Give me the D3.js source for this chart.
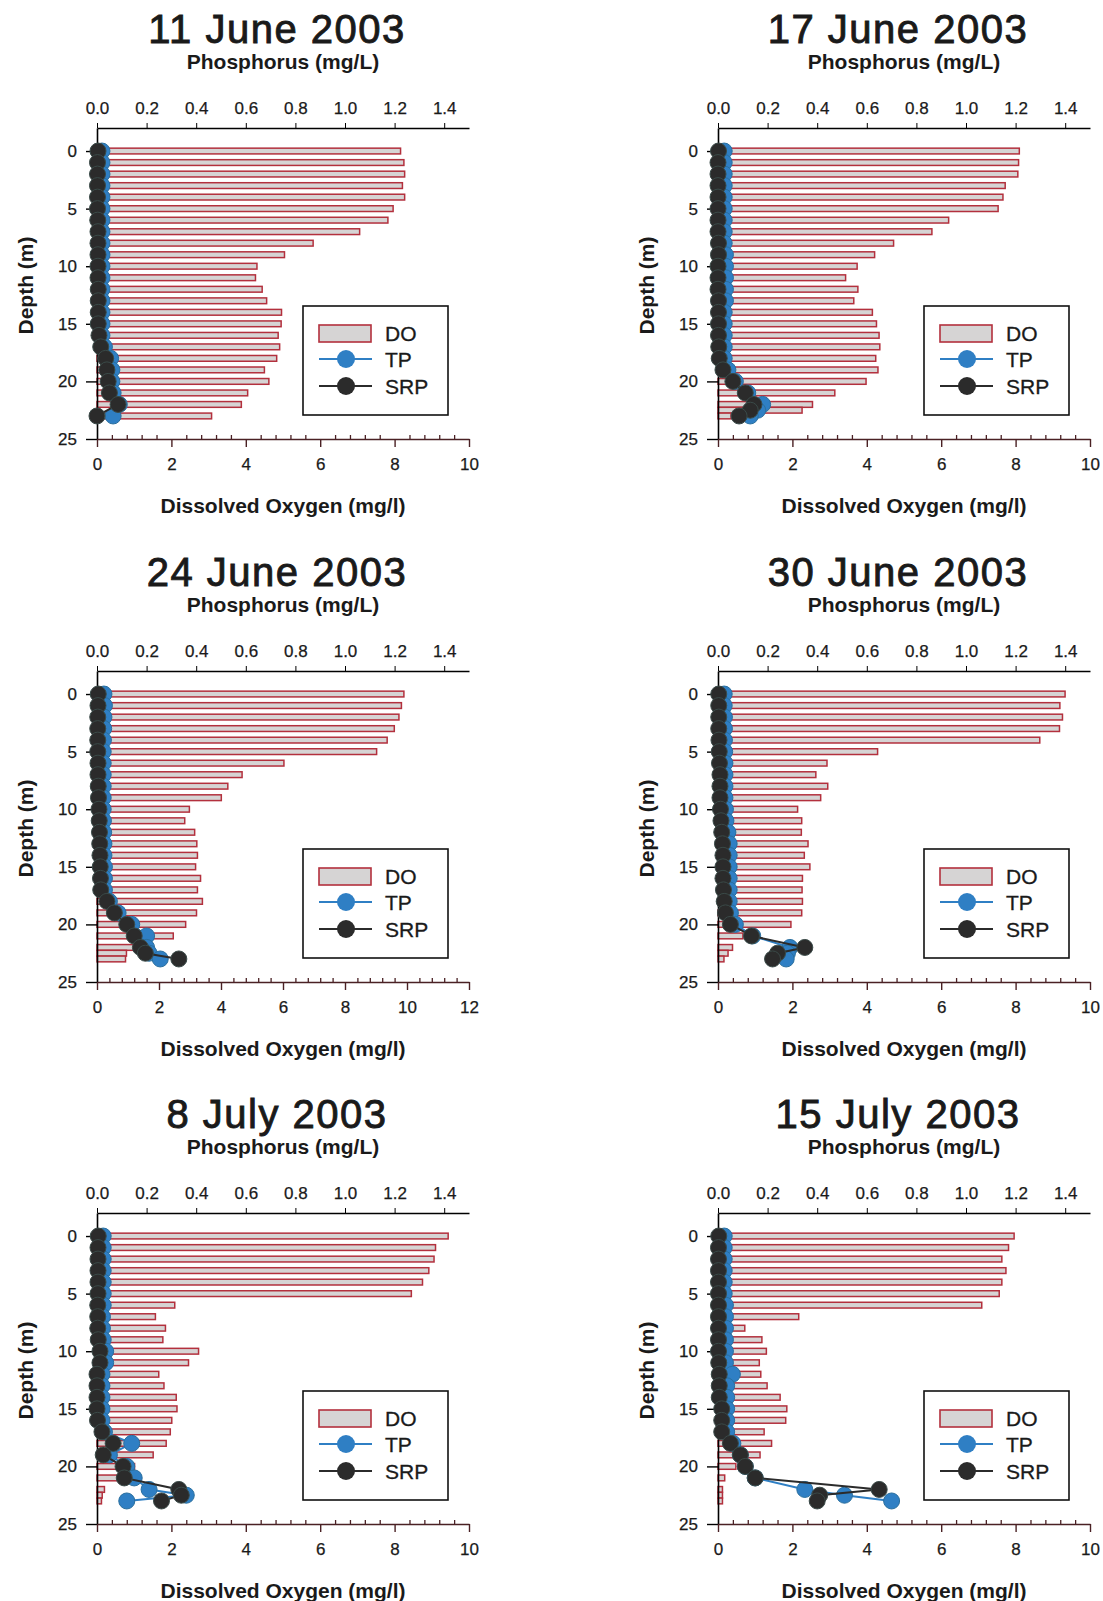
<!DOCTYPE html>
<html>
<head>
<meta charset="utf-8">
<script src="https://cdn.jsdelivr.net/npm/d3@7"></script>
<style>
    body { margin: 0; background: #fff; }
    text { font-family: "Liberation Sans", Arial, sans-serif; fill: #1a1a1a; }
</style>
</head>
<body>
<div class="canvas"></div>
<script>
// depths of the readings (m)
const depthsA = [0,1,2,3,4,5,6,7,8,9,10,11,12,13,14,15,16,17,18,19,20,21,22,23]
const depthsB = [0,1,2,3,4,5,6,7,8,9,10,11,12,13,14,15,16,17,18,19,20,21,22,22.5,23]

const titles = ["11 June 2003", "17 June 2003", "24 June 2003", "30 June 2003", "8 July 2003", "15 July 2003"]
const phosTicks = [0, 0.2, 0.4, 0.6, 0.8, 1.0, 1.2, 1.4]
const depthTicks = [0, 5, 10, 15, 20, 25]
const doTicks10 = [0, 2, 4, 6, 8, 10]
const doTicks12 = [0, 2, 4, 6, 8, 10, 12]

// dissolved oxygen (mg/l)
const do11Jun = [8.16,8.25,8.27,8.21,8.27,7.96,7.82,7.06,5.81,5.04,4.30,4.26,4.44,4.56,4.96,4.95,4.87,4.91,4.83,4.50,4.62,4.05,3.88,3.08]
const do17Jun = [8.10,8.08,8.06,7.72,7.66,7.53,6.20,5.75,4.72,4.21,3.74,3.43,3.76,3.65,4.15,4.26,4.33,4.35,4.24,4.30,3.98,3.14,2.54,2.26,0.35]
const do24Jun = [9.90,9.82,9.74,9.59,9.36,9.02,6.03,4.68,4.22,4.01,2.98,2.83,3.15,3.22,3.24,3.18,3.34,3.24,3.40,3.21,2.86,2.46,1.24,0.95,0.92]
const do30Jun = [9.33,9.19,9.26,9.18,8.65,4.29,2.93,2.63,2.95,2.76,2.14,2.25,2.24,2.42,2.32,2.47,2.27,2.26,2.27,2.25,1.96,0.67,0.39,0.27,0.16]
const do8Jul = [9.44,9.10,9.06,8.92,8.75,8.45,2.09,1.57,1.84,1.77,2.73,2.46,1.66,1.80,2.13,2.15,2.01,1.97,1.86,1.51,1.01,0.54,0.20,0.14,0.12]
const do15Jul = [7.96,7.81,7.63,7.74,7.63,7.56,7.09,2.17,0.72,1.18,1.30,1.11,1.15,1.32,1.67,1.85,1.82,1.24,1.44,1.13,0.48,0.18,0.12,0.12,0.12]

// total phosphorus (mg/L)
const tp11Jun = [0.02,0.02,0.02,0.02,0.02,0.02,0.02,0.02,0.02,0.02,0.02,0.02,0.02,0.02,0.02,0.02,0.02,0.03,0.055,0.06,0.06,0.065,0.09,0.065]
const tp17Jun = [0.025,0.025,0.025,0.025,0.025,0.025,0.025,0.025,0.025,0.03,0.03,0.03,0.03,0.03,0.025,0.025,0.025,0.025,0.025,0.04,0.07,0.12,0.18,0.16,0.13]
const tp24Jun = [0.028,0.03,0.028,0.027,0.026,0.025,0.025,0.025,0.025,0.025,0.025,0.026,0.027,0.028,0.028,0.03,0.03,0.03,0.05,0.085,0.14,0.2,0.2,0.21,0.255]
const tp30Jun = [0.025,0.025,0.026,0.026,0.026,0.027,0.028,0.028,0.028,0.028,0.03,0.032,0.04,0.045,0.045,0.045,0.045,0.045,0.045,0.05,0.07,0.14,0.29,0.28,0.275]
const tp8Jul = [0.025,0.025,0.025,0.025,0.025,0.025,0.025,0.022,0.022,0.025,0.035,0.035,0.02,0.02,0.02,0.02,0.02,0.03,0.14,0.05,0.12,0.15,0.21,0.36,0.12]
const tp15Jul = [0.025,0.025,0.025,0.025,0.025,0.025,0.03,0.03,0.03,0.03,0.03,0.03,0.058,0.035,0.035,0.035,0.035,0.035,0.06,0.09,0.11,0.15,0.35,0.51,0.70]

// soluble reactive phosphorus (mg/L)
const srp11Jun = [0.004,0.002,0.002,0.002,0.002,0.002,0.003,0.004,0.004,0.004,0.004,0.004,0.005,0.005,0.005,0.005,0.008,0.015,0.035,0.04,0.045,0.05,0.085,0.0]
const srp17Jun = [0.002,0,0,0,0,0,0,0,0.002,0.002,0,0,0,0.002,0.002,0.002,0.002,0.003,0.005,0.02,0.06,0.11,0.145,0.13,0.085]
const srp24Jun = [0.005,0.004,0.003,0.003,0.003,0.003,0.004,0.004,0.005,0.006,0.008,0.009,0.01,0.011,0.012,0.013,0.014,0.015,0.04,0.07,0.12,0.15,0.175,0.195,0.33]
const srp30Jun = [0.003,0.003,0.003,0.003,0.004,0.005,0.006,0.008,0.008,0.008,0.01,0.012,0.015,0.018,0.02,0.02,0.02,0.022,0.025,0.03,0.05,0.135,0.35,0.24,0.22]
const srp8Jul = [0.005,0.004,0.004,0.004,0.004,0.004,0.003,0.003,0.003,0.005,0.012,0.012,0,0,0,0,0.002,0.02,0.065,0.025,0.105,0.11,0.33,0.34,0.26]
const srp15Jul = [0.003,0.002,0.002,0.002,0.002,0.002,0.002,0.002,0.002,0.002,0.002,0.003,0.005,0.005,0.005,0.015,0.015,0.015,0.05,0.09,0.11,0.15,0.65,0.41,0.40]

const panels = [
    { title: titles[0], depths: depthsA, dox: do11Jun, tp: tp11Jun, srp: srp11Jun, doTicks: doTicks10 },
    { title: titles[1], depths: depthsB, dox: do17Jun, tp: tp17Jun, srp: srp17Jun, doTicks: doTicks10 },
    { title: titles[2], depths: depthsB, dox: do24Jun, tp: tp24Jun, srp: srp24Jun, doTicks: doTicks12 },
    { title: titles[3], depths: depthsB, dox: do30Jun, tp: tp30Jun, srp: srp30Jun, doTicks: doTicks10 },
    { title: titles[4], depths: depthsB, dox: do8Jul, tp: tp8Jul, srp: srp8Jul, doTicks: doTicks10 },
    { title: titles[5], depths: depthsB, dox: do15Jul, tp: tp15Jul, srp: srp15Jul, doTicks: doTicks10 }
]

const colors = { barFill: "#d6d4d4", barStroke: "#b3303d", tp: "#2f7fc4", srp: "#2b2b2b", doAxis: "#4a2124" }

const svg = d3.select(".canvas")
    .append("svg")
    .attr("width", 1103)
    .attr("height", 1601)

// panel grid
const colX = [97, 718]
const rowY = [128, 671, 1213]
const plotW = 372
const plotH = 311

function styleAxis(sel, size) {
    sel.selectAll("text")
        .attr("font-family", "'Liberation Sans', Arial, sans-serif")
        .attr("font-size", size)
        .attr("fill", "#1a1a1a")
        .attr("stroke", "#1a1a1a")
        .attr("stroke-width", 0.25)
}

panels.forEach((p, i) => {
    const g = svg.append("g")
        .attr("transform", `translate(${colX[i % 2]}, ${rowY[Math.floor(i / 2)]})`)

    const doMax = d3.max(p.doTicks)
    const x = d3.scaleLinear().domain([0, doMax]).range([0, plotW])
    const xp = d3.scaleLinear().domain([0, 1.5]).range([0, plotW])
    const y = d3.scaleLinear().domain([-2, 25]).range([0, plotH])

    const rows = p.depths.map((d, j) => ({ depth: d, dox: p.dox[j], tp: p.tp[j], srp: p.srp[j] }))

    // DO bars
    const barH = y(0.5) - y(0)
    g.selectAll("rect.bar")
        .data(rows)
        .enter()
        .append("rect")
        .attr("class", "bar")
        .attr("x", x(0))
        .attr("y", d => y(d.depth) - barH / 2)
        .attr("width", d => x(d.dox) - x(0))
        .attr("height", barH)
        .attr("fill", colors.barFill)
        .attr("stroke", colors.barStroke)
        .attr("stroke-width", 1.5)

    // axes
    const topAxis = g.append("g")
        .call(d3.axisTop(xp).tickValues(phosTicks).tickFormat(d3.format(".1f")).tickSize(5).tickSizeOuter(0).tickPadding(9))
    topAxis.select(".domain").attr("stroke-width", 1.6)
    styleAxis(topAxis, 17)

    const leftAxis = g.append("g")
        .call(d3.axisLeft(y).tickValues(depthTicks).tickSize(11).tickSizeOuter(0).tickPadding(9))
    leftAxis.select(".domain").attr("stroke-width", 1.6)
    leftAxis.selectAll(".tick line").attr("stroke-width", 1.4)
    styleAxis(leftAxis, 17)

    const minor = d3.range(0, doMax + 0.001, 0.4).filter(v => Math.abs(v / 2 - Math.round(v / 2)) > 0.01)
    const minorAxis = g.append("g")
        .attr("transform", `translate(0, ${plotH})`)
        .call(d3.axisBottom(x).tickValues(minor).tickSize(-4).tickSizeOuter(0).tickFormat(""))
    minorAxis.select(".domain").remove()
    minorAxis.selectAll("line").attr("stroke", colors.doAxis).attr("stroke-width", 1.3)

    const bottomAxis = g.append("g")
        .attr("transform", `translate(0, ${plotH})`)
        .call(d3.axisBottom(x).tickValues(p.doTicks).tickSize(8).tickSizeOuter(0).tickPadding(11))
    bottomAxis.select(".domain").attr("stroke", colors.doAxis).attr("stroke-width", 1.6)
    bottomAxis.selectAll(".tick line").attr("stroke", colors.doAxis).attr("stroke-width", 1.4)
    styleAxis(bottomAxis, 17)

    // phosphorus profiles
    const line = key => d3.line().x(d => xp(d[key])).y(d => y(d.depth))
    g.append("path").datum(rows)
        .attr("d", line("tp"))
        .attr("fill", "none").attr("stroke", colors.tp).attr("stroke-width", 2)
    g.selectAll("circle.tp")
        .data(rows)
        .enter()
        .append("circle")
        .attr("class", "tp")
        .attr("cx", d => xp(d.tp))
        .attr("cy", d => y(d.depth))
        .attr("r", 8)
        .attr("fill", colors.tp)
        .attr("stroke", "#2a6f9e")
        .attr("stroke-width", 1)

    g.append("path").datum(rows)
        .attr("d", line("srp"))
        .attr("fill", "none").attr("stroke", colors.srp).attr("stroke-width", 2)
    g.selectAll("circle.srp")
        .data(rows)
        .enter()
        .append("circle")
        .attr("class", "srp")
        .attr("cx", d => xp(d.srp))
        .attr("cy", d => y(d.depth))
        .attr("r", 8)
        .attr("fill", colors.srp)
        .attr("stroke", "#3a4a48")
        .attr("stroke-width", 1)

    // titles and axis labels
    g.append("text")
        .attr("x", plotW / 2 - 6)
        .attr("y", -85)
        .attr("text-anchor", "middle")
        .attr("font-size", 40)
        .attr("letter-spacing", 1.5)
        .attr("stroke", "#1a1a1a")
        .attr("stroke-width", 0.9)
        .text(p.title)

    g.append("text")
        .attr("x", plotW / 2)
        .attr("y", -59)
        .attr("text-anchor", "middle")
        .attr("font-size", 21)
        .attr("font-weight", "bold")
        .text("Phosphorus (mg/L)")

    g.append("text")
        .attr("x", plotW / 2)
        .attr("y", plotH + 74)
        .attr("text-anchor", "middle")
        .attr("font-size", 21)
        .attr("font-weight", "bold")
        .text("Dissolved Oxygen (mg/l)")

    g.append("text")
        .attr("transform", `translate(-64, ${plotH / 2 + 2}) rotate(-90)`)
        .attr("text-anchor", "middle")
        .attr("font-size", 21)
        .attr("font-weight", "bold")
        .text("Depth (m)")

    // legend
    const lg = g.append("g").attr("transform", `translate(206, 178)`)
    lg.append("rect")
        .attr("width", 145).attr("height", 109)
        .attr("fill", "#fff").attr("stroke", "#111").attr("stroke-width", 1.6)
    lg.append("rect")
        .attr("x", 16).attr("y", 19).attr("width", 52).attr("height", 17)
        .attr("fill", colors.barFill).attr("stroke", colors.barStroke).attr("stroke-width", 1.6)
    const legendItems = [
        { label: "TP", color: colors.tp, y: 53 },
        { label: "SRP", color: colors.srp, y: 80 }
    ]
    legendItems.forEach(it => {
        lg.append("line")
            .attr("x1", 16).attr("x2", 69).attr("y1", it.y).attr("y2", it.y)
            .attr("stroke", it.color).attr("stroke-width", 2)
        lg.append("circle")
            .attr("cx", 43).attr("cy", it.y).attr("r", 9)
            .attr("fill", it.color)
        lg.append("text")
            .attr("x", 82).attr("y", it.y + 8)
            .attr("font-size", 21)
            .attr("stroke", "#1a1a1a").attr("stroke-width", 0.3)
            .text(it.label)
    })
    lg.append("text")
        .attr("x", 82).attr("y", 35)
        .attr("font-size", 21)
        .attr("stroke", "#1a1a1a").attr("stroke-width", 0.3)
        .text("DO")
})
</script>
</body>
</html>
